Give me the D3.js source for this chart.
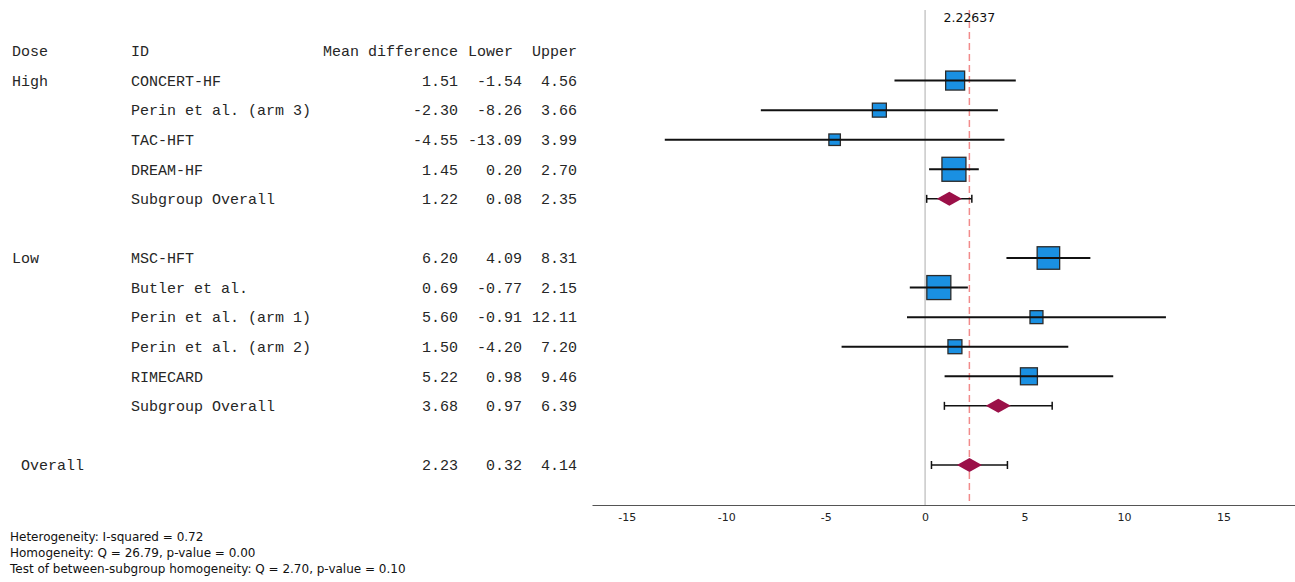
<!DOCTYPE html>
<meta charset="utf-8">
<html>
<head>
    <title>Forest plot by dose</title>
    <script src="https://cdn.jsdelivr.net/npm/d3@7"></script>
</head>
<style>
    body{
        margin: 0;
        background: white;
    }
    svg{
        display: block;
    }
    .tbl{
        font-family: "Liberation Mono", monospace;
        font-size: 15px;
        fill: #262626;
    }
    .axis text{
        font-family: "DejaVu Sans", sans-serif;
        font-size: 11px;
        fill: #222;
    }
    .axis path{
        stroke: #555;
        stroke-width: 1.2px;
    }
    .foot{
        font-family: "DejaVu Sans", sans-serif;
        font-size: 12px;
        fill: #111;
    }
</style>
<body>
<svg width="1295" height="582"></svg>

<script>
    // study level rows
    const studyIds = ["CONCERT-HF", "Perin et al. (arm 3)", "TAC-HFT", "DREAM-HF",
        "MSC-HFT", "Butler et al.", "Perin et al. (arm 1)", "Perin et al. (arm 2)", "RIMECARD"];
    const studyDose = ["High", "High", "High", "High", "Low", "Low", "Low", "Low", "Low"];
    const studyMean = [1.51, -2.30, -4.55, 1.45, 6.20, 0.69, 5.60, 1.50, 5.22];
    const studyLower = [-1.54, -8.26, -13.09, 0.20, 4.09, -0.77, -0.91, -4.20, 0.98];
    const studyUpper = [4.56, 3.66, 3.99, 2.70, 8.31, 2.15, 12.11, 7.20, 9.46];
    const studyWeight = [12.0, 6.5, 4.4, 19.2, 16.9, 19.2, 5.6, 6.5, 9.6];

    // subgroup pooled rows
    const doseGroups = ["High", "Low"];
    const groupMean = [1.22, 3.68];
    const groupLower = [0.08, 0.97];
    const groupUpper = [2.35, 6.39];

    // overall pooled row
    const overallMean = 2.23;
    const overallLower = 0.32;
    const overallUpper = 4.14;
    const pooledLine = 2.22637;

    const xTicks = [-15, -10, -5, 0, 5, 10, 15];
    const headers = ["Dose", "ID", "Mean difference", "Lower", "Upper"];
    const footNotes = [
        "Heterogeneity: I-squared = 0.72",
        "Homogeneity: Q = 26.79, p-value = 0.00",
        "Test of between-subgroup homogeneity: Q = 2.70, p-value = 0.10"
    ];

    const svg = d3.select("svg");
    const fmt = v => v.toFixed(2);

    // ***************************************
    //        build the row list
    // ***************************************
    const rows = [{type: "header"}];
    doseGroups.forEach((g, gi) => {
        studyIds.forEach((id, i) => {
            if (studyDose[i] !== g) return;
            const first = !rows.some(r => r.dose === g);
            rows.push({type: "study", dose: g, label: first ? g : "", id: id,
                mean: studyMean[i], lo: studyLower[i], hi: studyUpper[i], w: studyWeight[i]});
        });
        rows.push({type: "group", dose: g, label: "", id: "Subgroup Overall",
            mean: groupMean[gi], lo: groupLower[gi], hi: groupUpper[gi]});
        rows.push({type: "blank"});
    });
    rows.push({type: "overall", label: " Overall", id: "",
        mean: overallMean, lo: overallLower, hi: overallUpper});
    rows.forEach((r, i) => r.idx = i);

    const y = d3.scalePoint().domain(d3.range(rows.length)).range([51, 465]);
    const x = d3.scaleLinear().domain([-16.75, 18.6]).range([592, 1295]);
    const size = d3.scaleSqrt().domain([0, d3.max(studyWeight)]).range([0, 24]);

    // ***************************************
    //        text table
    // ***************************************
    const tbl = svg.append("g").attr("class", "tbl");
    const hdr = [[12, "start"], [131, "start"], [458, "end"], [513, "end"], [577, "end"]];
    headers.forEach((h, i) => {
        tbl.append("text").attr("x", hdr[i][0]).attr("y", y(0)).attr("dy", "0.35em")
            .attr("text-anchor", hdr[i][1]).attr("xml:space", "preserve").text(h);
    });
    const dataRows = rows.filter(r => r.type !== "header" && r.type !== "blank");
    const tr = tbl.selectAll("g.row").data(dataRows).join("g").attr("class", "row")
        .attr("transform", d => `translate(0,${y(d.idx)})`);
    tr.append("text").attr("x", 12).attr("dy", "0.35em").attr("xml:space", "preserve").text(d => d.label);
    tr.append("text").attr("x", 131).attr("dy", "0.35em").text(d => d.id);
    tr.append("text").attr("x", 458).attr("dy", "0.35em").attr("text-anchor", "end").text(d => fmt(d.mean));
    tr.append("text").attr("x", 522).attr("dy", "0.35em").attr("text-anchor", "end").text(d => fmt(d.lo));
    tr.append("text").attr("x", 577).attr("dy", "0.35em").attr("text-anchor", "end").text(d => fmt(d.hi));

    // ***************************************
    //        reference lines
    // ***************************************
    const axisY = 505;
    svg.append("line").attr("x1", x(0)).attr("x2", x(0)).attr("y1", 10).attr("y2", axisY)
        .attr("stroke", "#c8c8c8").attr("stroke-width", 1.5);
    svg.append("line").attr("x1", x(pooledLine)).attr("x2", x(pooledLine)).attr("y1", 10).attr("y2", axisY)
        .attr("stroke", "#f28b8b").attr("stroke-width", 1.5).attr("stroke-dasharray", "7,4");
    svg.append("text").attr("x", x(pooledLine)).attr("y", 18).attr("dy", "0.35em")
        .attr("text-anchor", "middle")
        .style("font-family", "DejaVu Sans, sans-serif").style("font-size", "12.5px").style("fill", "#111")
        .text(pooledLine);

    // ***************************************
    //        study squares + CIs
    // ***************************************
    const studies = rows.filter(r => r.type === "study");
    svg.selectAll("rect.sq").data(studies).join("rect").attr("class", "sq")
        .attr("x", d => x(d.mean) - size(d.w) / 2)
        .attr("y", d => y(d.idx) - size(d.w) / 2)
        .attr("width", d => size(d.w))
        .attr("height", d => size(d.w))
        .attr("fill", "#1a90e2")
        .attr("stroke", "#2b2b2b")
        .attr("stroke-width", 1.3);
    svg.selectAll("line.ci").data(studies).join("line").attr("class", "ci")
        .attr("x1", d => x(d.lo)).attr("x2", d => x(d.hi))
        .attr("y1", d => y(d.idx)).attr("y2", d => y(d.idx))
        .attr("stroke", "#111").attr("stroke-width", 2);

    // ***************************************
    //        pooled diamonds
    // ***************************************
    const pooled = rows.filter(r => r.type === "group" || r.type === "overall");
    const pg = svg.selectAll("g.pool").data(pooled).join("g").attr("class", "pool")
        .attr("transform", d => `translate(0,${y(d.idx)})`);
    pg.append("line").attr("x1", d => x(d.lo)).attr("x2", d => x(d.hi))
        .attr("stroke", "#111").attr("stroke-width", 1.5);
    pg.append("line").attr("x1", d => x(d.lo)).attr("x2", d => x(d.lo)).attr("y1", -4).attr("y2", 4)
        .attr("stroke", "#111").attr("stroke-width", 1.5);
    pg.append("line").attr("x1", d => x(d.hi)).attr("x2", d => x(d.hi)).attr("y1", -4).attr("y2", 4)
        .attr("stroke", "#111").attr("stroke-width", 1.5);
    pg.append("path")
        .attr("d", d => {
            const cx = x(d.mean);
            return `M${cx - 12.5},0L${cx},-7L${cx + 12.5},0L${cx},7Z`;
        })
        .attr("fill", "#9b1048");

    // ***************************************
    //        x axis
    // ***************************************
    svg.append("g").attr("class", "axis")
        .attr("transform", `translate(0,${axisY})`)
        .call(d3.axisBottom(x).tickValues(xTicks).tickSize(0).tickPadding(8).tickFormat(d => String(d)));

    // ***************************************
    //        footnotes
    // ***************************************
    svg.selectAll("text.foot").data(footNotes).join("text").attr("class", "foot")
        .attr("x", 10).attr("y", (d, i) => 537 + i * 16).attr("dy", "0.35em")
        .text(d => d);
</script>
</body>
</html>
